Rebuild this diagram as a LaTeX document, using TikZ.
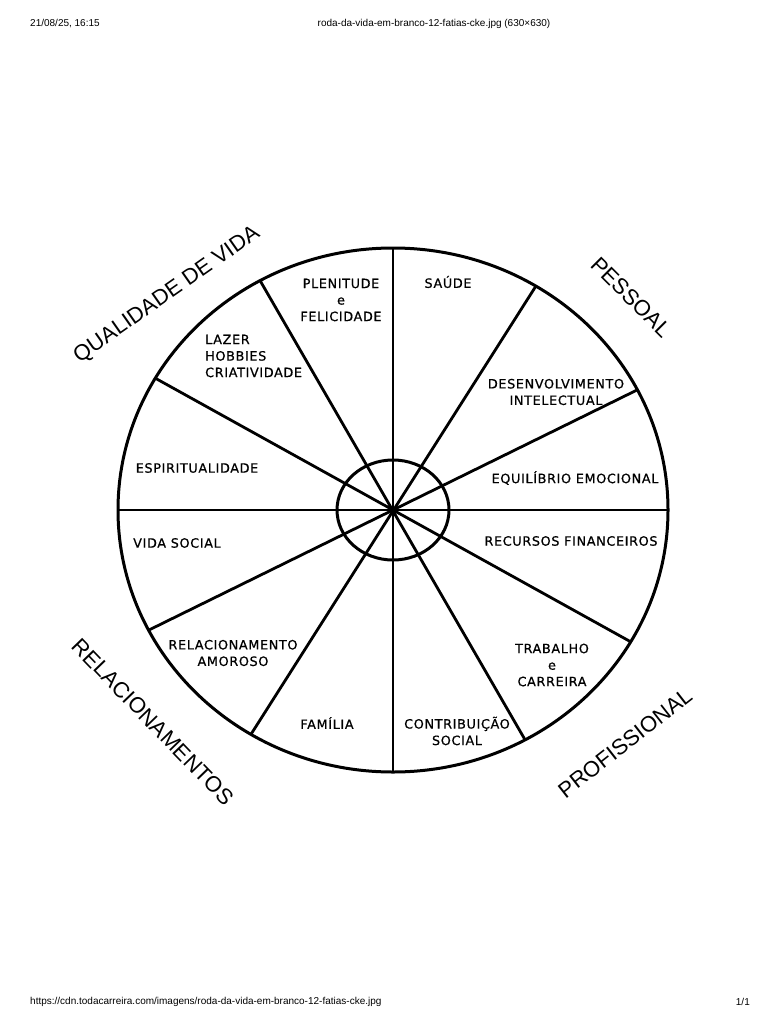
\documentclass[tikz,border=0pt]{standalone}
\usepackage{fontspec}
\setmainfont{DejaVu Sans}
\newfontfamily\lblfont[LetterSpace=5,FakeBold=0.6]{DejaVu Sans}
\newfontfamily\arlfont{Liberation Sans}
\usetikzlibrary{calc}
\begin{document}
\begin{tikzpicture}[x=1pt,y=-1pt,
  wheel/.style={line width=3pt},
  spoke/.style={line width=2.8pt},
  slice/.style={font=\lblfont\fontsize{12.8}{16.5}\selectfont, align=center, inner sep=0pt},
  grouplbl/.style={font=\arlfont\fontsize{22}{26}\selectfont, inner sep=0pt},
  meta/.style={font=\arlfont\fontsize{10}{12}\selectfont, inner sep=0pt}]
\useasboundingbox[fill=white] (0,0) rectangle (768,1024);
% header / footer
\node[meta, anchor=west] (date) at (30,24) {21/08/25, 16:15};
\node[meta] (title) at (434,24) {roda-da-vida-em-branco-12-fatias-cke.jpg (630×630)};
\node[meta, anchor=west] (url) at (30,1002) {https://cdn.todacarreira.com/imagens/roda-da-vida-em-branco-12-fatias-cke.jpg};
\node[meta, anchor=east] (page) at (750,1002) {1/1};
% wheel
\coordinate (c) at (393,510);
\foreach \t/\n in {0/e0,27.3/e1,58.7/e2,90/e3,118.9/e4,149.8/e5,180/e6,207.3/e7,238.9/e8,270/e9,298.7/e10,329.8/e11}{
  \coordinate (\n) at ($(c)+({275*cos(\t)},{-262*sin(\t)})$);
}
\draw[spoke] (e0) -- (e6);
\draw[spoke] (e1) -- (e7);
\draw[spoke] (e2) -- (e8);
\draw[spoke] (e3) -- (e9);
\draw[spoke] (e4) -- (e10);
\draw[spoke] (e5) -- (e11);
\draw[wheel] (c) ellipse [x radius=56pt, y radius=50pt];
\draw[wheel] (c) ellipse [x radius=275pt, y radius=262pt];
\fill (c) circle [radius=3pt];
% slice labels
\node[slice] (sau) at (448,282) {SAÚDE};
\node[slice] (ple) at (341,300) {PLENITUDE\\e\\FELICIDADE};
\node[slice, align=left, anchor=west] (laz) at (205,356) {LAZER\\HOBBIES\\CRIATIVIDADE};
\node[slice] (esp) at (197,468) {ESPIRITUALIDADE};
\node[slice] (vid) at (177,543) {VIDA SOCIAL};
\node[slice] (rel) at (233,653) {RELACIONAMENTO\\AMOROSO};
\node[slice] (fam) at (327,723) {FAMÍLIA};
\node[slice] (con) at (457,731) {CONTRIBUIÇÃO\\SOCIAL};
\node[slice] (tra) at (552,665) {TRABALHO\\e\\CARREIRA};
\node[slice] (rec) at (571,541) {RECURSOS FINANCEIROS};
\node[slice] (equ) at (575,478) {EQUILÍBRIO EMOCIONAL};
\node[slice] (des) at (556,392) {DESENVOLVIMENTO\\INTELECTUAL};
% group labels
\node[grouplbl, rotate=35] (qv) at (167,295) {QUALIDADE DE VIDA};
\node[grouplbl, rotate=-45] (pe) at (631,297) {PESSOAL};
\node[grouplbl, rotate=-46] (re) at (153,722) {RELACIONAMENTOS};
\node[grouplbl, rotate=38] (pr) at (625,743) {PROFISSIONAL};
\end{tikzpicture}
\end{document}
